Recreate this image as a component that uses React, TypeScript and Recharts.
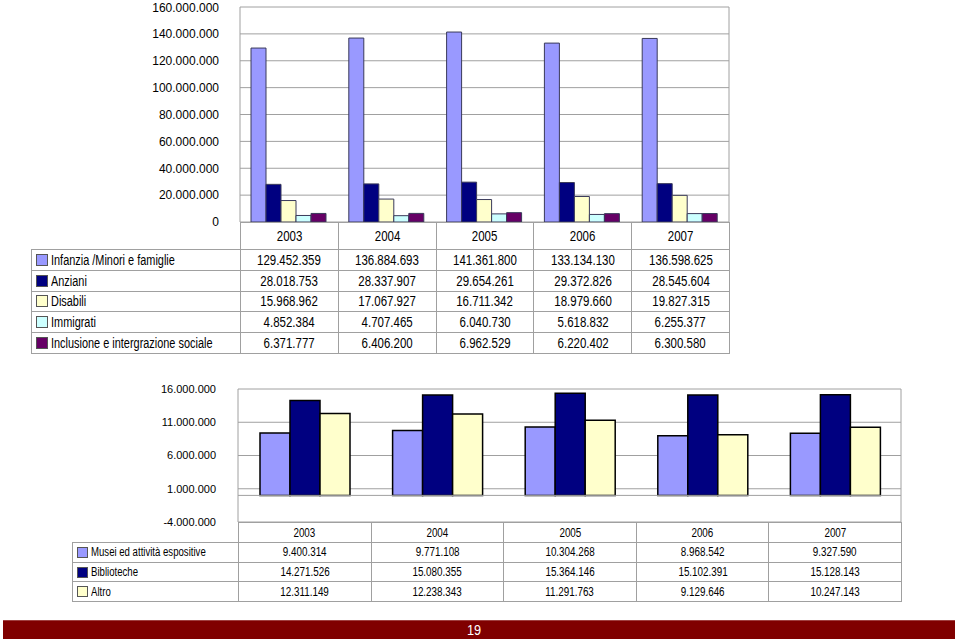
import { BarChart, Bar, XAxis, YAxis, CartesianGrid, ReferenceLine } from 'recharts'

// Spesa per area di intervento, 2003-2007
const years = ['2003', '2004', '2005', '2006', '2007']

const infanzia = [129452359, 136884693, 141361800, 133134130, 136598625]
const anziani = [28018753, 28337907, 29654261, 29372826, 28545604]
const disabili = [15968962, 17067927, 16711342, 18979660, 19827315]
const immigrati = [4852384, 4707465, 6040730, 5618832, 6255377]
const inclusione = [6371777, 6406200, 6962529, 6220402, 6300580]

const musei = [9400314, 9771108, 10304268, 8968542, 9327590]
const biblioteche = [14271526, 15080355, 15364146, 15102391, 15128143]
const altro = [12311149, 12238343, 11291763, 9129646, 10247143]

const topTicks = [0, 20000000, 40000000, 60000000, 80000000, 100000000, 120000000, 140000000, 160000000]
const bottomTicks = [-4000000, 1000000, 6000000, 11000000, 16000000]

const topSeries = [
  { key: 'infanzia', name: 'Infanzia /Minori e famiglie', color: '#9999ff', values: infanzia },
  { key: 'anziani', name: 'Anziani', color: '#000080', values: anziani },
  { key: 'disabili', name: 'Disabili', color: '#ffffcc', values: disabili },
  { key: 'immigrati', name: 'Immigrati', color: '#ccffff', values: immigrati },
  { key: 'inclusione', name: 'Inclusione e intergrazione sociale', color: '#660066', values: inclusione },
]

const bottomSeries = [
  { key: 'musei', name: 'Musei ed attività espositive', color: '#9999ff', values: musei },
  { key: 'biblioteche', name: 'Biblioteche', color: '#000080', values: biblioteche },
  { key: 'altro', name: 'Altro', color: '#ffffcc', values: altro },
]

type Series = { key: string; name: string; color: string; values: number[] }

const fmt = (n: number) => String(n).replace(/\B(?=(\d{3})+(?!\d))/g, '.')

const buildRows = (series: Series[]) =>
  years.map((year, i) => {
    const row: Record<string, any> = { year }
    series.forEach(s => (row[s.key] = s.values[i]))
    return row
  })

const topData = buildRows(topSeries)
const bottomData = buildRows(bottomSeries)

const GRID = '#a0a0a0'
const SANS = "'Liberation Sans', Arial, sans-serif"

// no narrow font installed, so squeeze Liberation Sans a bit
const Squeeze = ({ k, origin, children }: { k: number; origin: string; children: any }) => (
  <span style={{ display: 'inline-block', transform: `scaleX(${k})`, transformOrigin: origin }}>{children}</span>
)

function DataTable(props: {
  x: number
  y: number
  legendW: number
  colW: number
  headH: number
  rowH: number
  series: Series[]
  fontSize: number
  squeeze: number
  legendSqueeze: number
  swatch: number
}) {
  const { x, y, legendW, colW, headH, rowH, series, fontSize, squeeze, legendSqueeze, swatch } = props
  const dataX = x + legendW
  const bottom = y + headH + series.length * rowH
  const right = dataX + years.length * colW
  const cell = {
    position: 'absolute' as const,
    boxSizing: 'border-box' as const,
    borderLeft: `1px solid ${GRID}`,
    borderTop: `1px solid ${GRID}`,
    display: 'flex',
    alignItems: 'center',
    fontFamily: SANS,
    fontSize,
    color: '#000',
    whiteSpace: 'nowrap' as const,
  }
  return (
    <>
      {years.map((yr, i) => (
        <div key={yr} style={{ ...cell, left: dataX + i * colW, top: y, width: colW, height: headH, justifyContent: 'center' }}>
          <Squeeze k={squeeze} origin="center">{yr}</Squeeze>
        </div>
      ))}
      {series.map((s, r) => (
        <div key={s.key}>
          <div style={{ ...cell, left: x, top: y + headH + r * rowH, width: legendW, height: rowH, paddingLeft: 4 }}>
            <span
              style={{ display: 'inline-block', flex: 'none', width: swatch, height: swatch, background: s.color, border: '1px solid #555', boxSizing: 'border-box', marginRight: 3 }}
            />
            <Squeeze k={legendSqueeze} origin="left">{s.name}</Squeeze>
          </div>
          {s.values.map((v, i) => (
            <div
              key={i}
              style={{ ...cell, left: dataX + i * colW, top: y + headH + r * rowH, width: colW, height: rowH, justifyContent: 'center' }}
            >
              <Squeeze k={squeeze} origin="center">{fmt(v)}</Squeeze>
            </div>
          ))}
        </div>
      ))}
      <div style={{ position: 'absolute', left: right, top: y, width: 1, height: bottom - y + 1, background: GRID }} />
      <div style={{ position: 'absolute', left: x, top: bottom, width: right - x, height: 1, background: GRID }} />
    </>
  )
}

const frame = ({ offset }: any) => [offset.left, offset.left + offset.width]

export default function App() {
  return (
    <div style={{ position: 'absolute', left: 0, top: 0, width: 960, height: 642, background: '#fff', overflow: 'hidden' }}>
      <div style={{ position: 'absolute', left: 0, top: 0 }}>
        <BarChart
          width={960}
          height={250}
          data={topData}
          margin={{ top: 7, right: 231, bottom: 28, left: 150 }}
          barCategoryGap={11}
          barGap={0}
        >
          <CartesianGrid stroke={GRID} verticalCoordinatesGenerator={frame} />
          <XAxis dataKey="year" hide />
          <YAxis
            width={90}
            domain={[0, 160000000]}
            ticks={topTicks}
            tickFormatter={fmt}
            axisLine={false}
            tickLine={false}
            tickSize={0}
            tickMargin={21}
            tick={{ fill: '#000', fontSize: 12, fontFamily: SANS }}
          />
          {topSeries.map(s => (
            <Bar key={s.key} dataKey={s.key} name={s.name} fill={s.color} stroke="#3a3a5a" strokeWidth={1} isAnimationActive={false} />
          ))}
        </BarChart>
      </div>

      <DataTable x={31} y={222} legendW={209} colW={97.8} headH={27} rowH={20.8} series={topSeries} fontSize={14} squeeze={0.82} legendSqueeze={0.78} swatch={12} />

      <div style={{ position: 'absolute', left: 0, top: 370 }}>
        <BarChart
          width={960}
          height={160}
          data={bottomData}
          margin={{ top: 19, right: 59, bottom: 8, left: 148 }}
          barCategoryGap={22}
          barGap={0}
        >
          <CartesianGrid stroke={GRID} verticalCoordinatesGenerator={frame} />
          <XAxis dataKey="year" hide />
          <YAxis
            width={90}
            domain={[-4000000, 16000000]}
            ticks={bottomTicks}
            tickFormatter={fmt}
            axisLine={false}
            tickLine={false}
            tickSize={0}
            tickMargin={22}
            tick={{ fill: '#000', fontSize: 11, fontFamily: SANS }}
          />
          <ReferenceLine y={0} stroke={GRID} />
          {bottomSeries.map(s => (
            <Bar key={s.key} dataKey={s.key} name={s.name} fill={s.color} stroke="#000" strokeWidth={1.5} isAnimationActive={false} />
          ))}
        </BarChart>
      </div>

      <DataTable x={72} y={522} legendW={166} colW={132.6} headH={20} rowH={19.7} series={bottomSeries} fontSize={12} squeeze={0.82} legendSqueeze={0.8} swatch={11} />

      <div style={{ position: 'absolute', left: 3, top: 620, width: 952, height: 19, background: '#800000', borderTop: '1px solid #a04040', boxSizing: 'border-box' }}>
        <span style={{ position: 'absolute', left: 464, top: 0, color: '#fff', fontFamily: SANS, fontSize: 15, lineHeight: '18px' }}>
          <Squeeze k={0.85} origin="left">19</Squeeze>
        </span>
      </div>
    </div>
  )
}
